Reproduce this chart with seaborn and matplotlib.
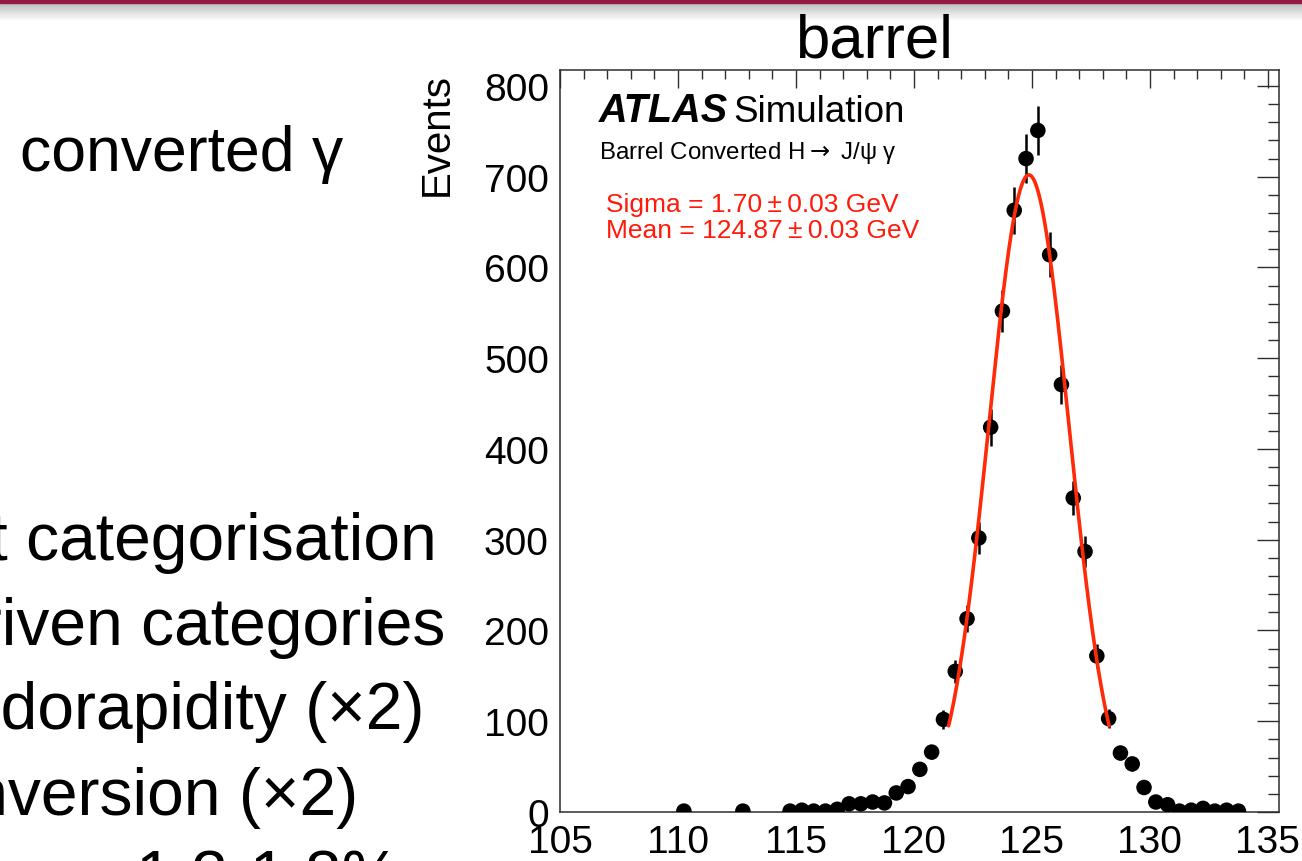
import numpy as np
import pandas as pd
import matplotlib
matplotlib.use("Agg")
import matplotlib.pyplot as plt
from matplotlib.ticker import MultipleLocator, FixedLocator
from matplotlib.patches import Rectangle
import seaborn as sns

# Simulated invariant-mass spectrum, barrel converted-photon category (0.5 GeV bins)
mass_gev = [110.25, 112.75,
            114.75, 115.25, 115.75, 116.25, 116.75, 117.25, 117.75, 118.25,
            118.75, 119.25, 119.75, 120.25, 120.75, 121.25, 121.75, 122.25,
            122.75, 123.25, 123.75, 124.25, 124.75, 125.25, 125.75, 126.25,
            126.75, 127.25, 127.75, 128.25, 128.75, 129.25, 129.75, 130.25,
            130.75, 131.25, 131.75, 132.25, 132.75, 133.25, 133.75]
events = [1, 1,
          1, 2, 1, 1, 3, 9, 9, 11,
          10, 21, 28, 47, 66, 102, 155, 213,
          302, 424, 552, 663, 720, 751, 614, 471,
          346, 287, 172, 103, 65, 53, 27, 11,
          8, 1, 2, 4, 1, 2, 1]

# Gaussian fit result
fit_mean, fit_mean_err = 124.87, 0.03
fit_sigma, fit_sigma_err = 1.70, 0.03
fit_peak = 702.0

x_ticks = [105, 110, 115, 120, 125, 130, 135]
y_ticks = [0, 100, 200, 300, 400, 500, 600, 700, 800]

slide_heading = "converted \u03b3"
slide_bullets = ["Event categorisation",
                 "Photon-driven categories",
                 "Photon pseudorapidity (\u00d72)",
                 "Photon conversion (\u00d72)",
                 "Resolution ~ 1.2-1.8%"]

W, H = 1302, 862
sns.set_theme(style="white")
plt.rcParams["font.family"] = ["Liberation Sans", "DejaVu Sans"]
plt.rcParams["text.color"] = "black"
plt.rcParams["axes.labelcolor"] = "black"
plt.rcParams["xtick.color"] = "black"
plt.rcParams["ytick.color"] = "black"

fig = plt.figure(figsize=(W / 100, H / 100), dpi=100)
fig.patch.set_facecolor("white")


def fx(px):
    return px / W


def fy(py):
    return 1 - py / H


# slide header bar with soft shadow underneath
shade = fig.add_axes([0, fy(22), 1, 22 / H])
grad = np.linspace(0.78, 1.0, 60) ** 1.5
shade.imshow(np.tile(grad[:, None], (1, 10)), cmap="gray", vmin=0, vmax=1,
             aspect="auto", extent=[0, 1, 0, 1], interpolation="bilinear")
shade.axis("off")
fig.add_artist(Rectangle((0, fy(4)), 1, 4 / H, transform=fig.transFigure,
                         color="#931b42", zorder=5))

# histogram panel
ax = fig.add_axes([fx(560), fy(813), 719 / W, 742 / H])
df = pd.DataFrame({"mass": mass_gev, "events": events})

ax.errorbar(df["mass"], df["events"], yerr=np.sqrt(df["events"]), fmt="none",
            ecolor="black", elinewidth=1.8, capsize=0, zorder=2)
sns.scatterplot(data=df, x="mass", y="events", ax=ax, color="black", s=125,
                edgecolor="none", linewidth=0, zorder=3, legend=False)

xf = np.linspace(fit_mean - 2 * fit_sigma, fit_mean + 2 * fit_sigma, 300)
fit_df = pd.DataFrame({"mass": xf,
                       "fit": fit_peak * np.exp(-0.5 * ((xf - fit_mean) / fit_sigma) ** 2)})
sns.lineplot(data=fit_df, x="mass", y="fit", ax=ax, color="#ff2a08",
             linewidth=2.6, zorder=4)

ax.set_xlim(105, 135.47)
ax.set_ylim(0, 817.6)
ax.xaxis.set_major_locator(FixedLocator(x_ticks))
ax.yaxis.set_major_locator(FixedLocator(y_ticks))
ax.xaxis.set_minor_locator(MultipleLocator(1))
ax.yaxis.set_minor_locator(MultipleLocator(20))
ax.set_xticklabels([str(t) for t in x_ticks])
ax.set_yticklabels([str(t) for t in y_ticks])
ax.set_xlabel("")
ax.set_ylabel("")

for s in ax.spines.values():
    s.set_color("#2e2e2e")
    s.set_linewidth(1.1)
ax.tick_params(which="both", direction="in", top=True, right=True,
               colors="#2e2e2e", width=1.0, labelcolor="black", labelsize=28)
ax.tick_params(axis="x", which="major", length=13, pad=9)
ax.tick_params(axis="x", which="minor", length=6.5)
ax.tick_params(axis="y", which="major", length=16, pad=8)
ax.tick_params(axis="y", which="minor", length=8)

# labels and annotations
fig.text(fx(874), fy(58), "barrel", ha="center", va="baseline", fontsize=44.5)
fig.text(fx(437), fy(73), "Events", rotation=90, ha="center", va="top",
         fontsize=29)
fig.text(fx(599), fy(122), "ATLAS", fontsize=28.5, fontweight="bold",
         fontstyle="italic", va="baseline")
fig.text(fx(733), fy(122), "Simulation", fontsize=26.5, va="baseline")
fig.text(fx(599), fy(159), "Barrel Converted H$\\rightarrow$ J/\u03c8 \u03b3",
         fontsize=17.3, va="baseline")
fig.text(fx(606), fy(212),
         f"Sigma = {fit_sigma:.2f}\u2009\u00b1\u2009{fit_sigma_err:.2f} GeV",
         fontsize=19, color="#ff1a0a", va="baseline")
fig.text(fx(606), fy(238),
         f"Mean = {fit_mean:.2f}\u2009\u00b1\u2009{fit_mean_err:.2f} GeV",
         fontsize=19, color="#ff1a0a", va="baseline")

# slide text beside the plot
fig.text(fx(20), fy(171), slide_heading, fontsize=45, va="baseline")
bullet_right = [437, 445, 424, 358, 400]
bullet_base = [560, 645, 729, 815, 897]
for txt, xr, yb in zip(slide_bullets, bullet_right, bullet_base):
    fig.text(fx(xr), fy(yb), txt, ha="right", va="baseline", fontsize=47.5)

fig.savefig("out.png", dpi=100, facecolor="white")
